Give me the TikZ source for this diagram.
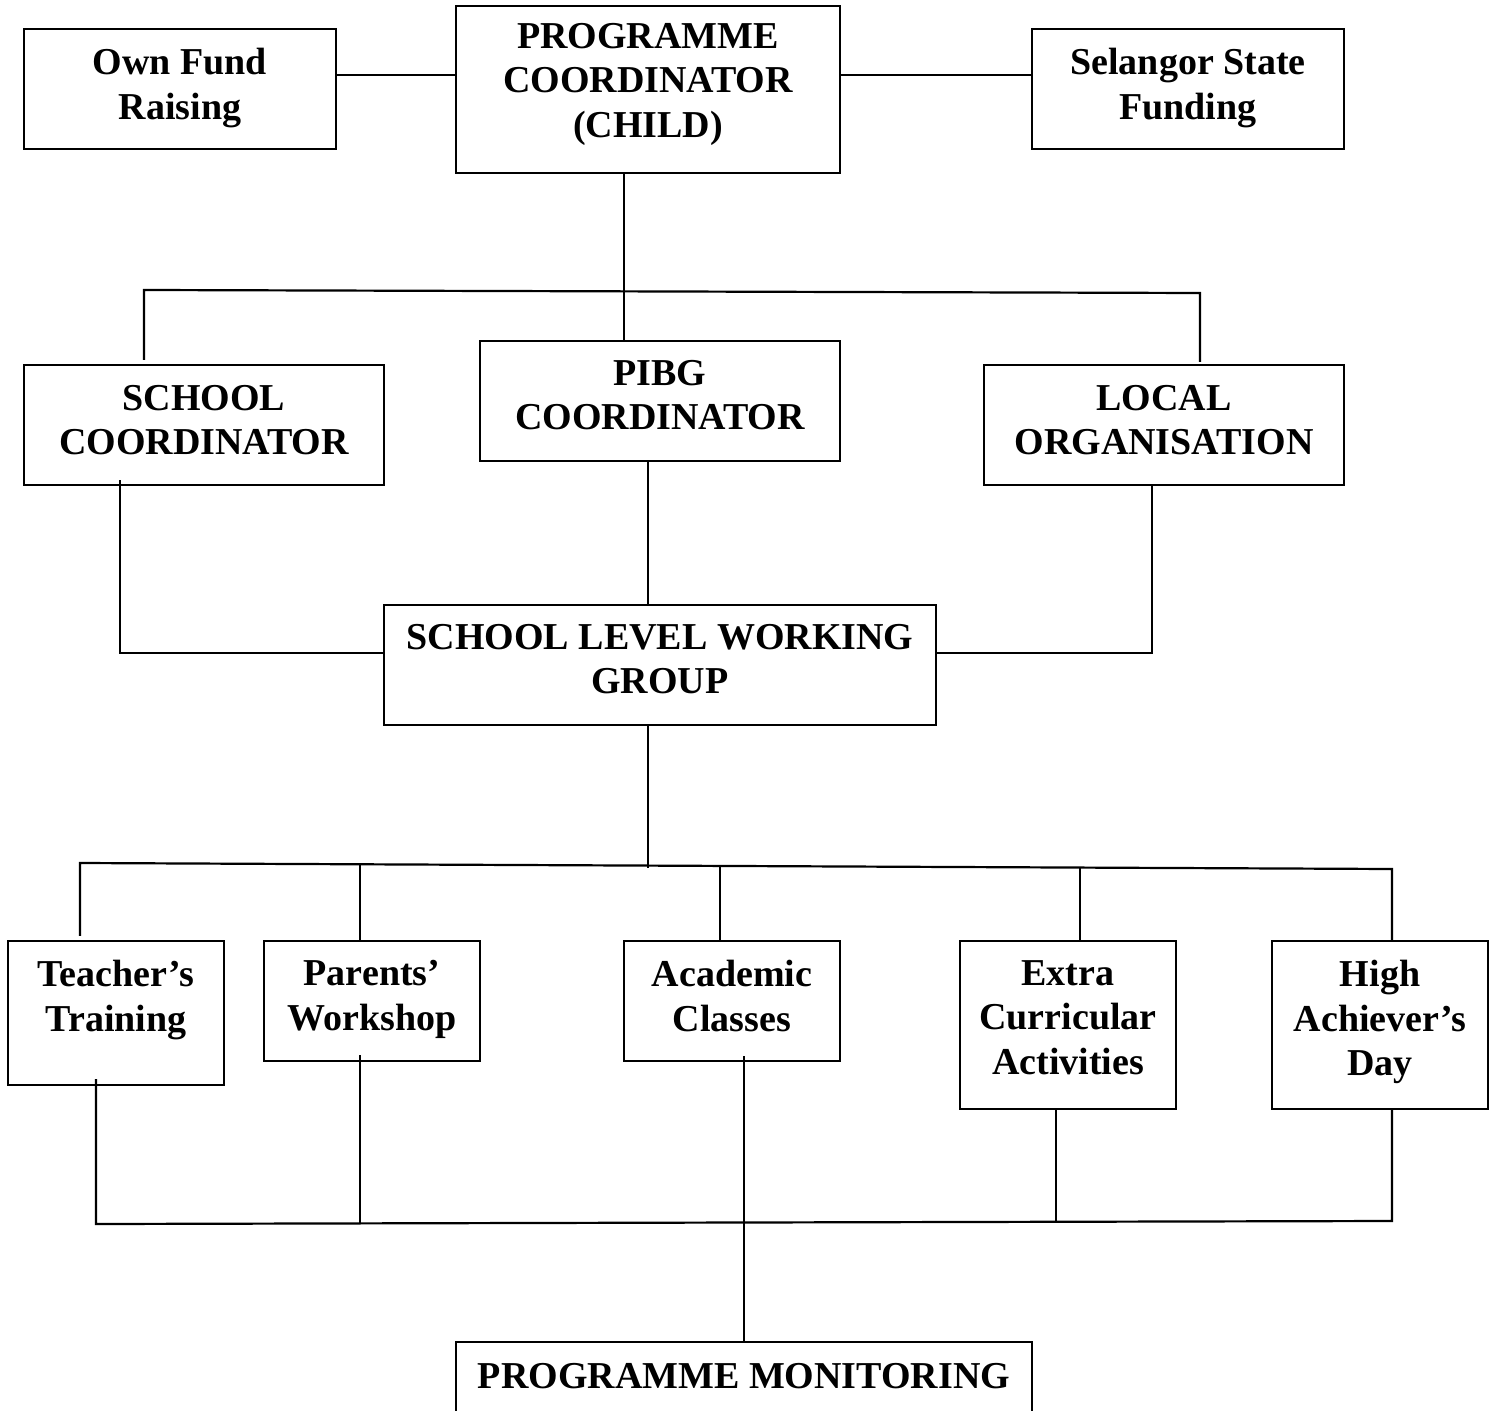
\documentclass[tikz,border=0pt]{standalone}
\usepackage{fontspec}
\setmainfont{Liberation Serif}
\usetikzlibrary{calc}
\begin{document}
\begin{tikzpicture}[x=0.5pt,y=-0.5pt,
  box/.style={draw,line width=1.2pt,rectangle,inner sep=0pt},
  txt/.style={font=\fontsize{19}{22.3}\selectfont\bfseries,align=center,inner sep=0pt,anchor=north},
  conn/.style={line width=1.1pt}]
\useasboundingbox (0,0) rectangle (1492,1411);
\clip (0,0) rectangle (1492,1411);
% boxes
\node[box,minimum width=156pt,minimum height=60pt] (own) at (180,89) {};
\node[box,minimum width=192pt,minimum height=83.5pt] (pc) at (648,89.5) {};
\node[box,minimum width=156pt,minimum height=60pt] (sel) at (1188,89) {};
\node[box,minimum width=180pt,minimum height=60pt] (sc) at (204,425) {};
\node[box,minimum width=180pt,minimum height=60pt] (pibg) at (660,401) {};
\node[box,minimum width=180pt,minimum height=60pt] (lo) at (1164,425) {};
\node[box,minimum width=276pt,minimum height=60pt] (slwg) at (660,665) {};
\node[box,minimum width=108pt,minimum height=72pt] (tt) at (116,1013) {};
\node[box,minimum width=108pt,minimum height=60pt] (pw) at (372,1001) {};
\node[box,minimum width=108pt,minimum height=60pt] (ac) at (732,1001) {};
\node[box,minimum width=108pt,minimum height=84pt] (eca) at (1068,1025) {};
\node[box,minimum width=108pt,minimum height=84pt] (had) at (1380,1025) {};
\node[box,minimum width=288pt,minimum height=60pt] (pm) at (744,1402) {};
% texts
\node[txt] (ownT) at ($(own.north)+(0,20)$) {Own Fund\\Raising};
\node[txt] (pcT) at ($(pc.north)+(0,18)$) {PROGRAMME\\COORDINATOR\\(CHILD)};
\node[txt] (selT) at ($(sel.north)+(0,20)$) {Selangor State\\Funding};
\node[txt] (scT) at ($(sc.north)+(0,21)$) {SCHOOL\\COORDINATOR};
\node[txt] (pibgT) at ($(pibg.north)+(0,20)$) {PIBG\\COORDINATOR};
\node[txt] (loT) at ($(lo.north)+(0,21)$) {LOCAL\\ORGANISATION};
\node[txt] (slwgT) at ($(slwg.north)+(0,20)$) {SCHOOL LEVEL WORKING\\GROUP};
\node[txt] (ttT) at ($(tt.north)+(0,20)$) {Teacher’s\\Training};
\node[txt] (pwT) at ($(pw.north)+(0,20)$) {Parents’\\Workshop};
\node[txt] (acT) at ($(ac.north)+(0,20)$) {Academic\\Classes};
\node[txt] (ecaT) at ($(eca.north)+(0,20)$) {Extra\\Curricular\\Activities};
\node[txt] (hadT) at ($(had.north)+(0,20)$) {High\\Achiever’s\\Day};
\node[txt] (pmT) at ($(pm.north)+(0,22)$) {PROGRAMME MONITORING};
% coordinates
\coordinate (yA) at (0,75);
\coordinate (vA) at (624,0);
\coordinate (tL) at (144,290);
\coordinate (tR) at (1200,293);
\coordinate (mL) at (120,653);
\coordinate (mR) at (1152,653);
\coordinate (vB) at (648,0);
\coordinate (bL) at (80,863);
\coordinate (bR) at (1392,869);
\coordinate (b1) at (360,864.3);
\coordinate (b2) at (648,868);
\coordinate (b3) at (720,865.9);
\coordinate (b4) at (1080,867.6);
\coordinate (cT) at (96,1224);
\coordinate (cH) at (1392,1221);
\coordinate (c1) at (360,1223.4);
\coordinate (c2) at (744,0);
\coordinate (c3) at (1056,1221.8);
% connectors
\draw[conn] (own.east |- yA) -- (pc.west |- yA);
\draw[conn] (pc.east |- yA) -- (sel.west |- yA);
\draw[conn] (pc.south -| vA) -- (pibg.north -| vA);
\draw[conn] ($(sc.north -| tL)+(0,-4)$) -- (tL) -- (tR) -- ($(lo.north -| tR)+(0,-2)$);
\draw[conn] ($(sc.south -| mL)+(0,-6)$) -- (mL) -- (slwg.west |- mL);
\draw[conn] (slwg.east |- mR) -- (mR) -- (lo.south -| mR);
\draw[conn] (pibg.south -| vB) -- (slwg.north -| vB);
\draw[conn] (slwg.south -| vB) -- (b2);
\draw[conn] ($(tt.north -| bL)+(0,-4)$) -- (bL) -- (bR) -- (had.north -| bR);
\draw[conn] (b1) -- (pw.north -| b1);
\draw[conn] (b3) -- (ac.north -| b3);
\draw[conn] (b4) -- (eca.north -| b4);
\draw[conn] ($(tt.south -| cT)+(0,-7)$) -- (cT) -- (cH) -- (had.south -| cH);
\draw[conn] ($(pw.south -| c1)+(0,-7)$) -- (c1);
\draw[conn] ($(ac.south -| c2)+(0,-6)$) -- (pm.north -| c2);
\draw[conn] (eca.south -| c3) -- (c3);
\end{tikzpicture}
\end{document}
